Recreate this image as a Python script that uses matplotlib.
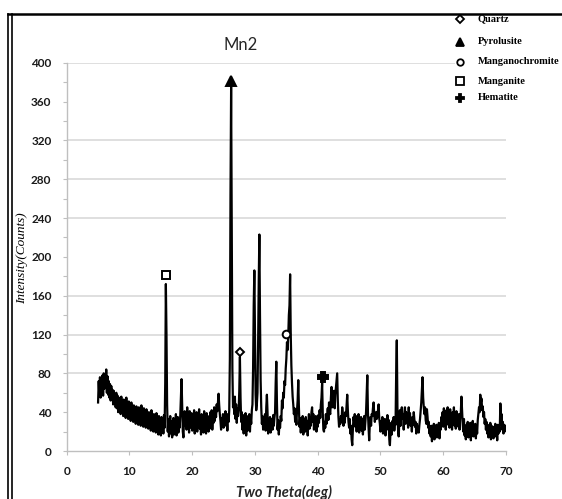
import numpy as np
import matplotlib
matplotlib.use("Agg")
import matplotlib.pyplot as plt
from matplotlib.lines import Line2D
from matplotlib.patches import Rectangle

# XRD scan Mn2, counts every 0.1 deg from 5.0 to 70.0
scan_start = 5.0
scan_step = 0.1
intensity = [
    50, 72, 58, 76, 55, 70, 62, 78, 57, 80,   # 5
    64, 79, 66, 84, 60, 77, 58, 72, 55, 69,   # 6
    52, 67, 56, 63, 48, 62, 50, 58, 45, 60,   # 7
    44, 57, 40, 55, 46, 52, 38, 56, 42, 50,   # 8
    36, 53, 41, 49, 34, 55, 40, 47, 33, 51,   # 9
    37, 48, 31, 50, 39, 44, 30, 47, 35, 42,   # 10
    28, 46, 36, 43, 27, 45, 33, 40, 26, 47,   # 11
    32, 41, 25, 44, 30, 38, 24, 43, 34, 39,   # 12
    23, 40, 29, 37, 21, 42, 28, 35, 20, 38,   # 13
    27, 34, 19, 39, 25, 33, 17, 36, 24, 31,   # 14
    16, 35, 22, 30, 18, 37, 24, 70, 172, 120, # 15
    48, 20, 33, 15, 29, 36, 18, 31, 14, 27,   # 16
    34, 17, 30, 22, 38, 16, 28, 35, 19, 32,   # 17
    24, 37, 55, 74, 46, 20, 14, 33, 41, 26,   # 18
    38, 22, 45, 27, 35, 19, 41, 30, 24, 39,   # 19
    21, 36, 28, 42, 18, 33, 25, 40, 20, 37,   # 20
    29, 43, 23, 34, 17, 38, 26, 31, 19, 41,   # 21
    24, 35, 18, 39, 27, 32, 20, 36, 23, 40,   # 22
    26, 42, 22, 37, 29, 45, 31, 40, 35, 48,   # 23
    41, 50, 59, 47, 38, 31, 22, 34, 27, 38,   # 24
    24, 36, 29, 41, 26, 33, 21, 38, 30, 42,   # 25
    95, 265, 375, 240, 85, 45, 52, 38, 56, 33,  # 26
    48, 29, 44, 36, 42, 62, 97, 55, 30, 40,   # 27
    22, 37, 18, 33, 25, 39, 16, 31, 21, 36,   # 28
    24, 38, 20, 35, 28, 42, 48, 85, 150, 186, # 29
    120, 58, 42, 48, 60, 110, 175, 223, 140, 73,  # 30
    45, 28, 36, 22, 33, 26, 38, 21, 45, 58,   # 31
    40, 18, 30, 24, 35, 19, 28, 33, 22, 37,   # 32
    26, 34, 40, 70, 92, 50, 22, 32, 17, 29,   # 33
    24, 36, 31, 52, 44, 60, 55, 72, 68, 85,   # 34
    95, 112, 104, 118, 140, 150, 182, 120, 88, 70,  # 35
    56, 48, 38, 44, 30, 36, 27, 42, 52, 73,   # 36
    45, 25, 34, 19, 30, 22, 36, 17, 28, 33,   # 37
    20, 35, 24, 31, 16, 29, 38, 23, 34, 26,   # 38
    40, 45, 30, 38, 22, 33, 27, 36, 20, 31,   # 39
    25, 37, 29, 42, 34, 48, 55, 70, 40, 22,   # 40
    20, 30, 24, 38, 28, 35, 44, 32, 50, 40,   # 41
    38, 55, 66, 45, 57, 50, 62, 44, 58, 65,   # 42
    72, 80, 52, 35, 25, 32, 28, 36, 30, 45,   # 43
    38, 26, 34, 29, 40, 36, 48, 58, 42, 30,   # 44
    24, 33, 18, 26, 12, 6, 22, 35, 30, 38,    # 45
    25, 36, 20, 32, 27, 38, 19, 30, 24, 35,   # 46
    21, 33, 17, 29, 36, 22, 31, 40, 60, 78,   # 47
    40, 24, 11, 28, 35, 26, 38, 36, 44, 50,   # 48
    38, 30, 35, 40, 33, 36, 42, 48, 34, 28,   # 49
    20, 31, 24, 35, 18, 30, 26, 33, 16, 28,   # 50
    22, 37, 25, 32, 12, 6, 20, 29, 17, 31,    # 51
    24, 35, 21, 30, 27, 80, 114, 45, 22, 15,  # 52
    30, 42, 26, 40, 45, 33, 38, 22, 36, 45,   # 53
    28, 40, 32, 37, 24, 45, 30, 39, 26, 34,   # 54
    20, 35, 27, 40, 33, 25, 30, 18, 28, 22,   # 55
    24, 19, 27, 33, 41, 50, 62, 76, 55, 45,   # 56
    38, 45, 32, 28, 43, 35, 24, 30, 18, 25,   # 57
    15, 26, 10, 22, 17, 28, 12, 24, 19, 27,   # 58
    14, 23, 18, 29, 13, 26, 22, 35, 28, 40,   # 59
    25, 44, 30, 38, 22, 42, 33, 45, 27, 39,   # 60
    24, 43, 31, 36, 22, 40, 28, 45, 26, 37,   # 61
    23, 41, 30, 35, 25, 38, 22, 34, 40, 56,   # 62
    42, 28, 20, 33, 16, 25, 12, 27, 18, 30,   # 63
    14, 24, 19, 29, 11, 26, 17, 31, 15, 23,   # 64
    20, 28, 13, 25, 18, 32, 38, 45, 40, 58,   # 65
    50, 54, 42, 46, 35, 40, 28, 33, 22, 30,   # 66
    18, 27, 14, 24, 20, 29, 12, 26, 17, 23,   # 67
    13, 25, 19, 28, 15, 22, 11, 27, 18, 24,   # 68
    20, 49, 32, 38, 22, 30, 18, 27, 20, 26,   # 69
    22,                                       # 70
]
two_theta = np.round(scan_start + scan_step * np.arange(len(intensity)), 2)

# phase identification marks
phases = ["Quartz", "Pyrolusite", "Manganochromite", "Manganite", "Hematite"]
phase_theta = [27.6, 26.2, 35.0, 15.85, 40.8]
phase_counts = [102, 381, 121, 181, 76]
phase_marker = ["D", "^", "o", "s", "P"]
phase_filled = [False, True, False, False, True]
phase_size = [4.5, 7.5, 5.5, 6, 7]

x_ticks = [0, 10, 20, 30, 40, 50, 60, 70]
y_ticks = [0, 40, 80, 120, 160, 200, 240, 280, 320, 360, 400]
grid_levels = [80, 120, 160, 240, 280, 320, 400]

W, H = 562, 499
fig = plt.figure(figsize=(W / 100, H / 100), dpi=100)
ax = fig.add_axes([66.7 / W, 1 - 451 / H, (506 - 66.7) / W, (451 - 62.7) / H])

for g in grid_levels:
    ax.axhline(g, color="#d9d9d9", lw=1.2, zorder=0)

ax.plot(two_theta, intensity, color="black", lw=1.6, zorder=2)

for i in range(len(phases)):
    face = "black" if phase_filled[i] else "white"
    ax.plot(phase_theta[i], phase_counts[i], marker=phase_marker[i], ms=phase_size[i],
            mfc=face, mec="black", mew=1.4, ls="none", clip_on=False, zorder=3)

ax.set_xlim(0, 70)
ax.set_ylim(0, 400)
ax.set_xticks(x_ticks)
ax.set_yticks(y_ticks)
ax.set_yticks([20, 60, 100, 140, 180, 220, 260, 300, 340, 380], minor=True)
for s in ["top", "right"]:
    ax.spines[s].set_visible(False)
for s in ["left", "bottom"]:
    ax.spines[s].set_color("#bfbfbf")
    ax.spines[s].set_linewidth(1.0)
ax.tick_params(axis="both", which="both", color="#bfbfbf", length=3, width=0.8,
               labelcolor="#1a1a1a", labelsize=8.5)
ax.tick_params(axis="y", pad=8)
ax.tick_params(axis="x", pad=8)
for lab in ax.get_xticklabels() + ax.get_yticklabels():
    lab.set_fontfamily("Lato")
    lab.set_fontweight("bold")

fig.text(241 / W, 1 - 45 / H, "Mn2", ha="center", va="center", fontsize=12,
         family="Lato", color="#262626")
fig.text(284 / W, 1 - 492 / H, "Two Theta(deg)", ha="center", va="center",
         fontsize=10.5, style="italic", fontweight="bold", family="Lato", color="#262626")
fig.text(22 / W, 1 - 258 / H, "Intensity(Counts)", ha="center", va="center",
         rotation=90, fontsize=9.5, style="italic", family="Liberation Serif")

# legend block at top right
fig.add_artist(Rectangle((455 / W, 1 - 108 / H), 107 / W, 108 / H,
                         transform=fig.transFigure, facecolor="white",
                         edgecolor="none", zorder=3))
legend_y = [19, 42, 62, 81, 98]
for i, name in enumerate(phases):
    face = "black" if phase_filled[i] else "white"
    fig.add_artist(Line2D([460 / W], [1 - legend_y[i] / H], marker=phase_marker[i],
                          ms=phase_size[i] * 0.85, mfc=face, mec="black", mew=1.3,
                          ls="none", transform=fig.transFigure, zorder=4))
    fig.text(478 / W, 1 - legend_y[i] / H, name, ha="left", va="center", fontsize=7.5,
             fontweight="bold", family="Liberation Serif", zorder=4)

# outer frame: top rule and double rule on the left
fig.add_artist(Line2D([8 / W, 1], [1 - 14 / H, 1 - 14 / H], color="black", lw=1.8,
                      transform=fig.transFigure, zorder=5))
for xp in [8, 12]:
    fig.add_artist(Line2D([xp / W, xp / W], [0, 1 - 14 / H], color="black", lw=1.2,
                          transform=fig.transFigure, zorder=5))

fig.savefig("out.png", dpi=100)
